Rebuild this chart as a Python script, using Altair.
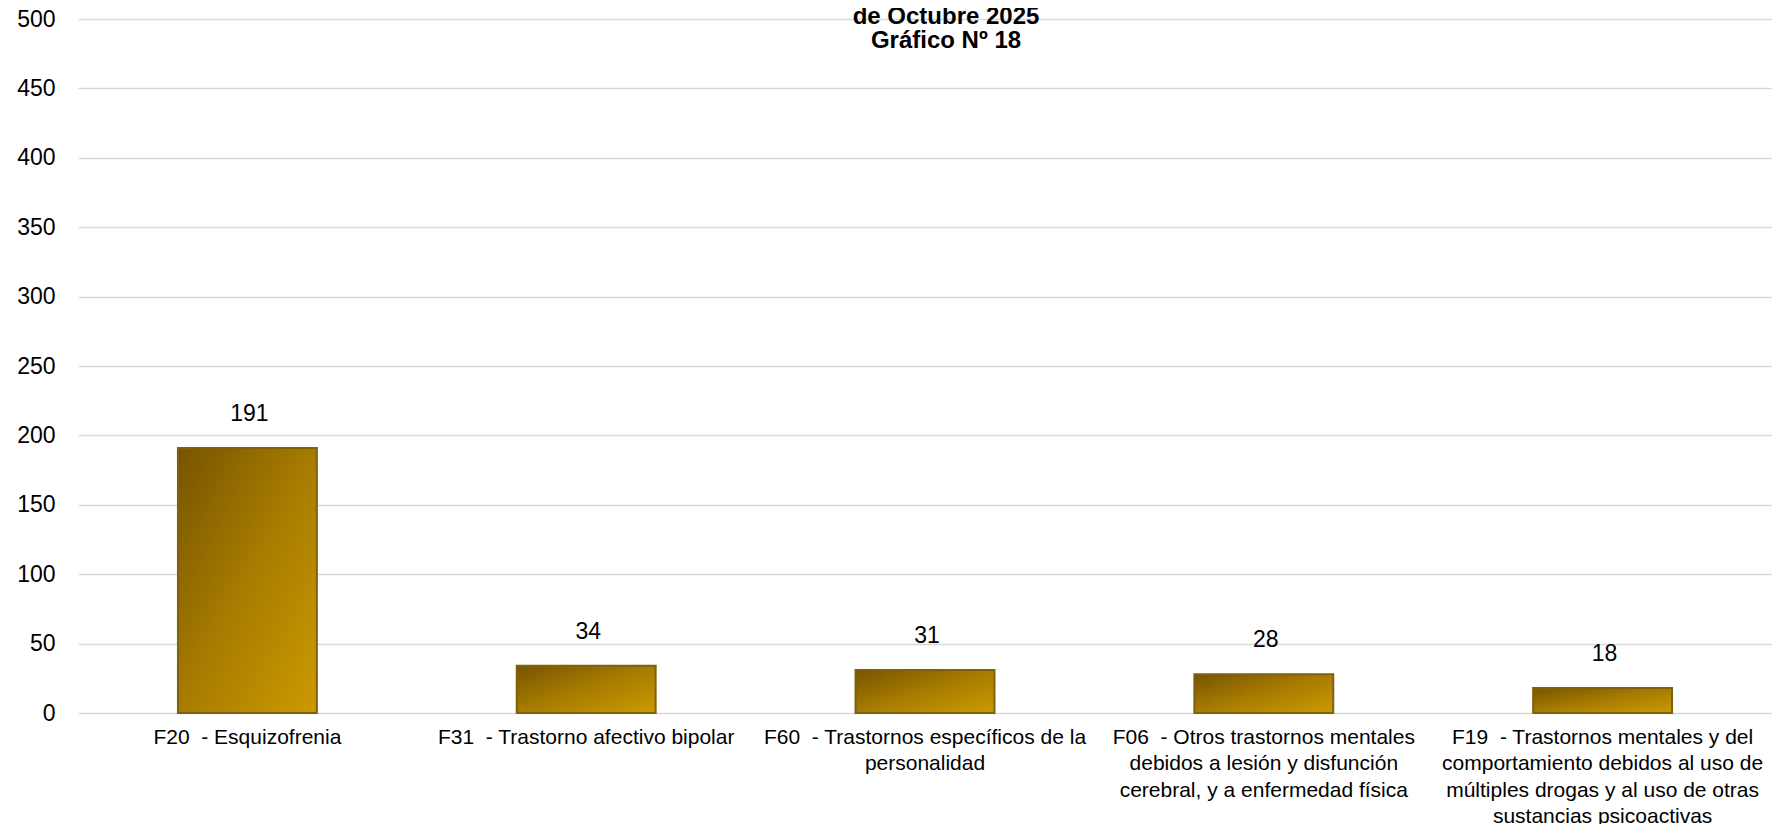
import altair as alt
import pandas as pd

NB = "\u00a0"
categories = [
    "F20" + NB + " - Esquizofrenia",
    "F31" + NB + " - Trastorno afectivo bipolar",
    "F60" + NB + " - Trastornos específicos de la|personalidad",
    "F06" + NB + " - Otros trastornos mentales|debidos a lesión y disfunción|cerebral, y a enfermedad física",
    "F19" + NB + " - Trastornos mentales y del|comportamiento debidos al uso de|múltiples drogas y al uso de otras|sustancias psicoactivas",
]
values = [191, 34, 31, 28, 18]
y_ticks = [0, 50, 100, 150, 200, 250, 300, 350, 400, 450, 500]
title_lines = ["de Octubre 2025", "Gráfico Nº 18"]

df = pd.DataFrame({"cat": categories, "val": values})

FONT = "Liberation Sans, Arial, sans-serif"

gradient = alt.Gradient(
    gradient="linear",
    stops=[
        alt.GradientStop(color="#775400", offset=0),
        alt.GradientStop(color="#a77c00", offset=0.5),
        alt.GradientStop(color="#cc9a00", offset=1),
    ],
    x1=0, y1=0, x2=1, y2=1,
)

x_enc = alt.X(
    "cat:N",
    sort=None,
    scale=alt.Scale(paddingInner=0.59, paddingOuter=0.295),
    axis=alt.Axis(
        title=None,
        labelAngle=0,
        labelExpr="split(datum.label, '|')",
        labelFont=FONT,
        labelFontSize=21,
        labelLineHeight=26.5,
        labelColor="#000000",
        labelPadding=13,
        labelLimit=0,
        domain=False,
        ticks=False,
        grid=False,
    ),
)
y_enc = alt.Y(
    "val:Q",
    scale=alt.Scale(domain=[0, 500], nice=False),
    axis=alt.Axis(
        title=None,
        values=y_ticks,
        labelFont=FONT,
        labelFontSize=23,
        labelColor="#000000",
        labelPadding=23,
        tickSize=0,
        ticks=False,
        domain=False,
        grid=True,
        gridColor="#d9d9d9",
        gridWidth=1.5,
    ),
)

bars = alt.Chart(df).mark_bar(
    color=gradient, stroke="#80600a", strokeWidth=2
).encode(x=x_enc, y=y_enc)

labels = alt.Chart(df).mark_text(
    font=FONT, fontSize=23, color="#000000", baseline="alphabetic", dy=-27, dx=2
).encode(x=alt.X("cat:N", sort=None), y="val:Q", text="val:Q")

chart = (
    alt.layer(bars, labels)
    .properties(
        width=1694,
        height=694,
        padding={"left": 70, "top": 11, "right": 0, "bottom": 122},
        autosize=alt.AutoSizeParams(type="none"),
        title=alt.TitleParams(
            text=title_lines,
            font=FONT,
            fontSize=24,
            fontWeight="bold",
            color="#000000",
            lineHeight=24,
            anchor="middle",
            frame="group",
            dx=21,
            offset=-45,
        ),
        background="#ffffff",
    )
    .configure_view(stroke=None)
)

chart.save("out.html", embed_options={"renderer": "svg", "actions": False})
